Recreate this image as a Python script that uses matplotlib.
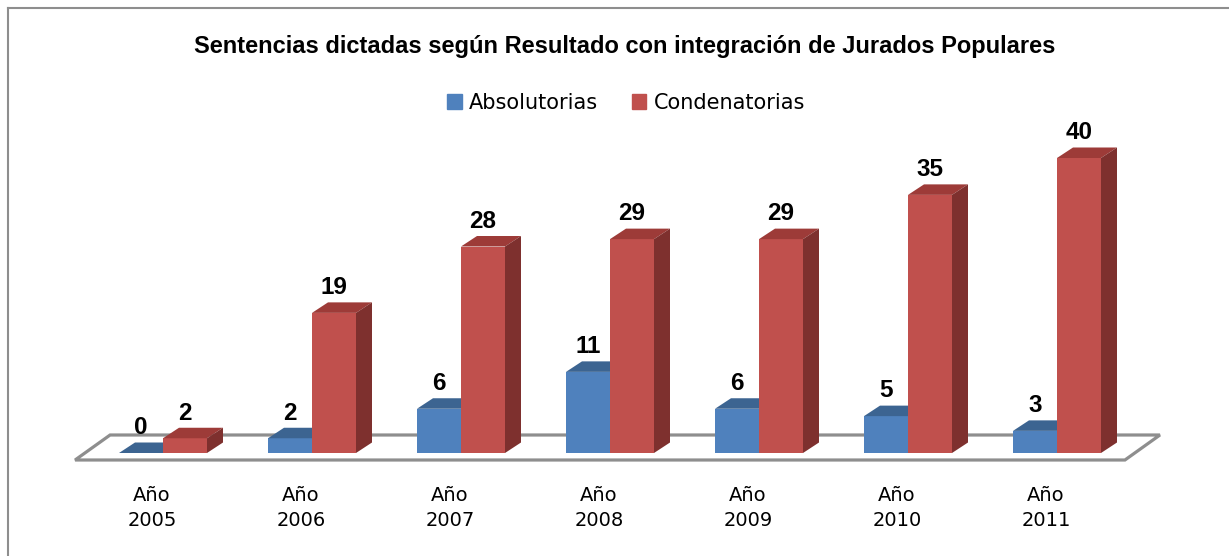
"""Sentencias dictadas según Resultado con integración de Jurados Populares — pseudo-3D bars."""
import numpy as np
import matplotlib
matplotlib.use("Agg")
import matplotlib.pyplot as plt
from matplotlib.patches import Polygon, Patch
from matplotlib.lines import Line2D

# ---- data
YEARS = ["2005", "2006", "2007", "2008", "2009", "2010", "2011"]
ABSOLUTORIAS = [0, 2, 6, 11, 6, 5, 3]
CONDENATORIAS = [2, 19, 28, 29, 29, 35, 40]
SERIES = ["Absolutorias", "Condenatorias"]
TITLE = "Sentencias dictadas según Resultado con integración de Jurados Populares"

# ---- layout (pixels of the 1229x556 canvas)
W, H = 1229, 556
X0_PX, STEP_PX = 163, 149          # first group centre, group spacing
BASE_PX, UNIT_PX = 453, 7.375      # value 0 row (from top), px per unit
BAR_W = 44 / STEP_PX
DX, DY = 16 / STEP_PX, 10.5 / UNIT_PX   # bar depth
FDX, FDY = 35 / STEP_PX, 25 / UNIT_PX   # floor depth

BLUE = ("#4F81BD", "#3C6491", "#385D8A")   # front, top, side
RED = ("#C0504D", "#9D3B38", "#7E302E")
GREY = "#8E8E8E"

plt.rcParams["font.family"] = ["DejaVu Sans"]

fig = plt.figure(figsize=(W / 100, H / 100), dpi=100)
ax = fig.add_axes([0, 0, 1, 1])
ax.set_xlim(-X0_PX / STEP_PX, (W - X0_PX) / STEP_PX)
ax.set_ylim(-(H - BASE_PX) / UNIT_PX, BASE_PX / UNIT_PX)
ax.axis("off")

# outer frame (only left/top visible)
fig.add_artist(Line2D([7.5 / W, 7.5 / W], [0, 1 - 7.5 / H], transform=fig.transFigure,
                      color=GREY, lw=1.5))
fig.add_artist(Line2D([7.5 / W, 1], [1 - 7.5 / H, 1 - 7.5 / H], transform=fig.transFigure,
                      color=GREY, lw=1.5))

# floor
x = np.arange(len(YEARS))
fx0, fx1, fy = -0.59, len(YEARS) - 1 + 0.456, -7 / UNIT_PX
floor = Polygon([(fx0, fy), (fx1, fy), (fx1 + FDX, fy + FDY), (fx0 + FDX, fy + FDY)],
                closed=True, facecolor="white", edgecolor=GREY, lw=2.3, zorder=1)
ax.add_patch(floor)


def bars3d(xs, vals, cols, z):
    ax.bar(xs, vals, width=BAR_W, align="edge", color=cols[0], lw=0, zorder=z)
    for xl, v in zip(xs, vals):
        xr = xl + BAR_W
        ax.add_patch(Polygon([(xl, v), (xr, v), (xr + DX, v + DY), (xl + DX, v + DY)],
                             closed=True, facecolor=cols[1], lw=0, zorder=z))
        ax.add_patch(Polygon([(xr, 0), (xr + DX, DY), (xr + DX, v + DY), (xr, v)],
                             closed=True, facecolor=cols[2], lw=0, zorder=z))
        ax.text(xl + BAR_W / 2, v + DY + 2.0, f"{v}", ha="center", va="center",
                fontsize=17.5, fontweight="bold", family="Liberation Sans", zorder=6)


bars3d(x - BAR_W, ABSOLUTORIAS, BLUE, 3)
bars3d(x, CONDENATORIAS, RED, 4)

# category labels
for i, yr in enumerate(YEARS):
    xc = i - 11 / STEP_PX
    ax.text(xc, (BASE_PX - 501) / UNIT_PX, "Año", ha="center", va="baseline", fontsize=14)
    ax.text(xc, (BASE_PX - 526) / UNIT_PX, yr, ha="center", va="baseline", fontsize=14)

fig.text(625 / W, 1 - 53 / H, TITLE, ha="center", va="baseline", fontsize=17,
         fontweight="bold", family="Liberation Sans")

handles = [Patch(color=BLUE[0]), Patch(color=RED[0])]
fig.legend(handles, SERIES, loc="center", bbox_to_anchor=(626 / W, 1 - 103 / H),
           ncol=2, frameon=False, fontsize=15, handlelength=0.7, handleheight=0.7,
           handletextpad=0.35, columnspacing=1.6, borderpad=0)

fig.savefig("out.png", dpi=100)
